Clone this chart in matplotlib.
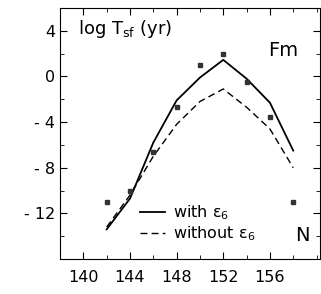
import matplotlib
matplotlib.use("Agg")
import matplotlib.pyplot as plt
from matplotlib.ticker import MultipleLocator

N = [142, 144, 146, 148, 150, 152, 154, 156, 158]
with_e6 = [-13.4, -10.7, -5.8, -2.1, -0.1, 1.45, -0.2, -2.3, -6.5]
without_e6 = [-13.2, -10.4, -7.0, -4.2, -2.2, -1.1, -2.7, -4.6, -8.0]
exp_N = [142, 144, 146, 148, 150, 152, 154, 156, 158]
exp_vals = [-11.0, -10.0, -6.6, -2.7, 1.0, 2.0, -0.5, -3.6, -11.0]

xticks = [140, 144, 148, 152, 156]
yticks = [4, 0, -4, -8, -12]
ylabels = ["4", "0", "- 4", "- 8", "- 12"]

fig = plt.figure(figsize=(3.21, 2.94), dpi=100)
ax = fig.add_axes([0.187, 0.119, 0.81, 0.854])

ax.plot(N, with_e6, color="black", lw=1.3, label="with ε$_6$")
ax.plot(N, without_e6, color="black", lw=1.0, ls=(0, (5, 3)), label="without ε$_6$")
ax.plot(exp_N, exp_vals, ls="none", marker="s", ms=3.5, color="#333333")

ax.set_xlim(138, 160.3)
ax.set_ylim(-16, 6)
ax.set_xticks(xticks)
ax.set_yticks(yticks)
ax.set_yticklabels(ylabels)
ax.xaxis.set_minor_locator(MultipleLocator(2))
ax.yaxis.set_minor_locator(MultipleLocator(2))
ax.tick_params(which="both", direction="in", top=True, right=True, labelsize=11.5)
ax.tick_params(which="major", length=5)
ax.tick_params(which="minor", length=3)
ax.tick_params(axis="x", pad=8)

ax.text(0.07, 0.915, r"log T$_{\mathrm{sf}}$ (yr)", transform=ax.transAxes, fontsize=13, va="center")
ax.text(0.8, 0.83, "Fm", transform=ax.transAxes, fontsize=14, va="center")
ax.text(0.905, 0.095, "N", transform=ax.transAxes, fontsize=14, va="center")

ax.legend(loc="lower left", bbox_to_anchor=(0.275, 0.03), frameon=False, fontsize=11.5,
          handlelength=1.6, handletextpad=0.5, labelspacing=0.15, borderpad=0)

fig.savefig("out.png", dpi=100)
